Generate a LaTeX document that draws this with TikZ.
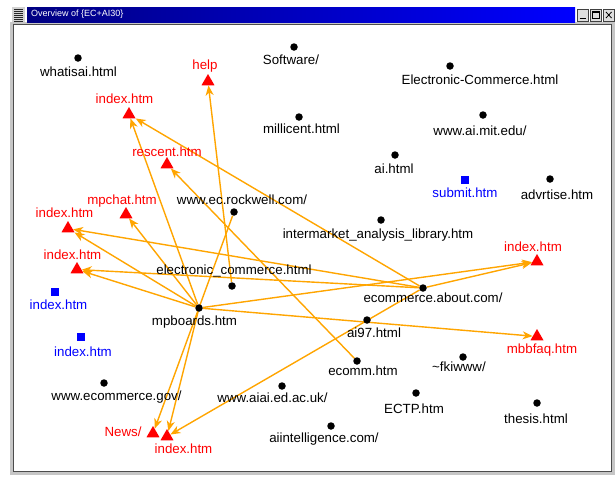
\documentclass[tikz,border=0pt]{standalone}
\usepackage{fontspec}
\setmainfont{Liberation Sans}
\usetikzlibrary{arrows.meta,shapes.geometric}
\pgfdeclarelayer{bg}
\pgfdeclarelayer{back}
\pgfsetlayers{back,bg,main}
\definecolor{edgeorange}{RGB}{255,165,0}
\definecolor{titledark}{RGB}{0,0,130}
\definecolor{titlelight}{RGB}{0,0,255}
\begin{document}
\begin{tikzpicture}[x=1pt,y=-1pt,
  lbl/.style={inner sep=0pt, text height=9.5pt, text depth=0pt, font=\fontsize{13.3}{14}\selectfont},
  blk/.style={lbl,text=black},
  redl/.style={lbl,text=red},
  bluel/.style={lbl,text=blue},
  dot/.style={circle,fill=black,inner sep=0pt,minimum size=7.5pt},
  tri/.style={regular polygon,regular polygon sides=3,fill=red,inner sep=0pt,minimum size=15pt},
  sq/.style={rectangle,fill=blue,inner sep=0pt,minimum size=8pt},
  link/.style={draw=edgeorange,line width=1.4pt,-{Stealth[length=10pt,width=8pt,inset=3pt]}},
  btn/.style={fill=gray!25,draw=gray!50!black,line width=0.6pt}]
\useasboundingbox (0,0) rectangle (616,477);
\begin{pgfonlayer}{back}
\fill[white] (0,0) rectangle (616,477);
% window frame
\draw[gray!45,line width=2.5pt] (11.5,23) rectangle (613.5,473.5);
\draw[gray!60!black,line width=0.8pt] (13.5,24.5) rectangle (611.5,471.5);
\end{pgfonlayer}
% title bar
\shade[left color=titledark,right color=titlelight] (27,7) rectangle (575,22);
\node[anchor=west,text=white,font=\fontsize{9}{10}\selectfont,inner sep=0pt] (title) at (31,14.5) {Overview of \{EC+AI30\}};
\fill[gray!35] (12,7) rectangle (25,22);
\foreach \yy in {9,11,13,15,17,19,21} \draw[gray!30!black,line width=0.6pt] (14,\yy) -- (23,\yy);
\path[btn] (577,9) rectangle (588.5,21);
\path[btn] (590,9) rectangle (601.5,21);
\path[btn] (603,9) rectangle (614.5,21);
\draw[black,line width=1.2pt] (579.5,18.5) -- (585.5,18.5);
\draw[black,line width=0.9pt] (592.5,11.5) rectangle (599,18.5);
\draw[black,line width=0.9pt] (592.5,12.2) -- (599,12.2);
\draw[black,line width=0.8pt] (606,12) -- (611.5,18) (606,18) -- (611.5,12);
% dots
\node[dot] (whatisai) at (78,58) {};
\node[dot] (software) at (294,47) {};
\node[dot] (eleccomm) at (450,66) {};
\node[dot] (millicent) at (299,117) {};
\node[dot] (aimit) at (483,115) {};
\node[dot] (aihtml) at (395,155) {};
\node[dot] (advrtise) at (550,179) {};
\node[dot] (rockwell) at (234,212) {};
\node[dot] (intermarket) at (381,220) {};
\node[dot] (ecommerce) at (232,286) {};
\node[dot] (ecabout) at (423,288) {};
\node[dot] (mpboards) at (199,308) {};
\node[dot] (ai97) at (367,320) {};
\node[dot] (ecomm) at (357,361) {};
\node[dot] (fkiwww) at (463,357) {};
\node[dot] (ecgov) at (104,383) {};
\node[dot] (aiai) at (282,386) {};
\node[dot] (ectp) at (416,393) {};
\node[dot] (thesis) at (537,403) {};
\node[dot] (aiintel) at (331,426) {};
% triangles
\node[tri] (help) at (208,81.5) {};
\node[tri] (idxTop) at (129,114.5) {};
\node[tri] (rescent) at (167,164.5) {};
\node[tri] (mpchat) at (126,214.5) {};
\node[tri] (idxA) at (68,228.5) {};
\node[tri] (idxR) at (537,261.5) {};
\node[tri] (idxB) at (77,269.5) {};
\node[tri] (mbbfaq) at (537,336.5) {};
\node[tri] (news) at (153,433.5) {};
\node[tri] (idxC) at (167,436.5) {};
% squares
\node[sq] (submit) at (465,180) {};
\node[sq] (blueA) at (55,292) {};
\node[sq] (blueB) at (81,337) {};
% labels
\node[blk] (l1) at (78.5,72) {whatisai.html};
\node[blk] (l2) at (291,60) {Software/};
\node[blk] (l3) at (480,80) {Electronic-Commerce.html};
\node[redl] (l4) at (205,65) {help};
\node[redl] (l5) at (124.5,99) {index.htm};
\node[blk] (l6) at (301.5,129) {millicent.html};
\node[blk] (l7) at (480,131) {www.ai.mit.edu/};
\node[blk] (l8) at (394,169) {ai.html};
\node[redl] (l9) at (167,152) {rescent.htm};
\node[bluel] (l10) at (465,193) {submit.htm};
\node[blk] (l11) at (557,195) {advrtise.htm};
\node[blk] (l12) at (242,200) {www.ec.rockwell.com/};
\node[redl] (l13) at (122,200) {mpchat.htm};
\node[redl] (l14) at (64.5,213) {index.htm};
\node[blk] (l15) at (378,234) {intermarket\_analysis\_library.htm};
\node[redl] (l16) at (533,247) {index.htm};
\node[redl] (l17) at (72.5,255) {index.htm};
\node[blk] (l18) at (234,270) {electronic\_commerce.html};
\node[bluel] (l19) at (58.5,305) {index.htm};
\node[blk] (l20) at (433,298) {ecommerce.about.com/};
\node[blk] (l21) at (194.5,321) {mpboards.htm};
\node[blk] (l22) at (374,333) {ai97.html};
\node[redl] (l23) at (542,349) {mbbfaq.htm};
\node[bluel] (l24) at (83,352) {index.htm};
\node[blk] (l25) at (363,371) {ecomm.htm};
\node[blk] (l26) at (459,367) {\textasciitilde fkiwww/};
\node[blk] (l27) at (116.5,396) {www.ecommerce.gov/};
\node[blk] (l28) at (272.5,398) {www.aiai.ed.ac.uk/};
\node[blk] (l29) at (414,409) {ECTP.htm};
\node[blk] (l30) at (536,419) {thesis.html};
\node[blk] (l31) at (324,438) {aiintelligence.com/};
\node[redl] (l32) at (123,432) {News/};
\node[redl] (l33) at (183.5,449) {index.htm};
% links
\begin{pgfonlayer}{bg}
\path[link] (mpboards) -- (idxTop);
\path[link] (ecabout) -- (idxTop);
\path[link] (ecommerce) -- (help);
\path[link] (ecomm) -- (rescent);
\path[link] (mpboards) -- (mpchat);
\path[link] (mpboards) -- (idxA);
\path[link] (ecabout) -- (idxA);
\path[link] (mpboards) -- (idxB);
\path[link] (ecabout) -- (idxB);
\path[link] (ecabout) -- (idxR);
\path[link] (mpboards) -- (idxR);
\path[link] (mpboards) -- (mbbfaq);
\path[link] (rockwell) -- (news);
\path[link] (mpboards) -- (idxC);
\path[link] (ecabout) -- (idxC);
\end{pgfonlayer}
\end{tikzpicture}
\end{document}
